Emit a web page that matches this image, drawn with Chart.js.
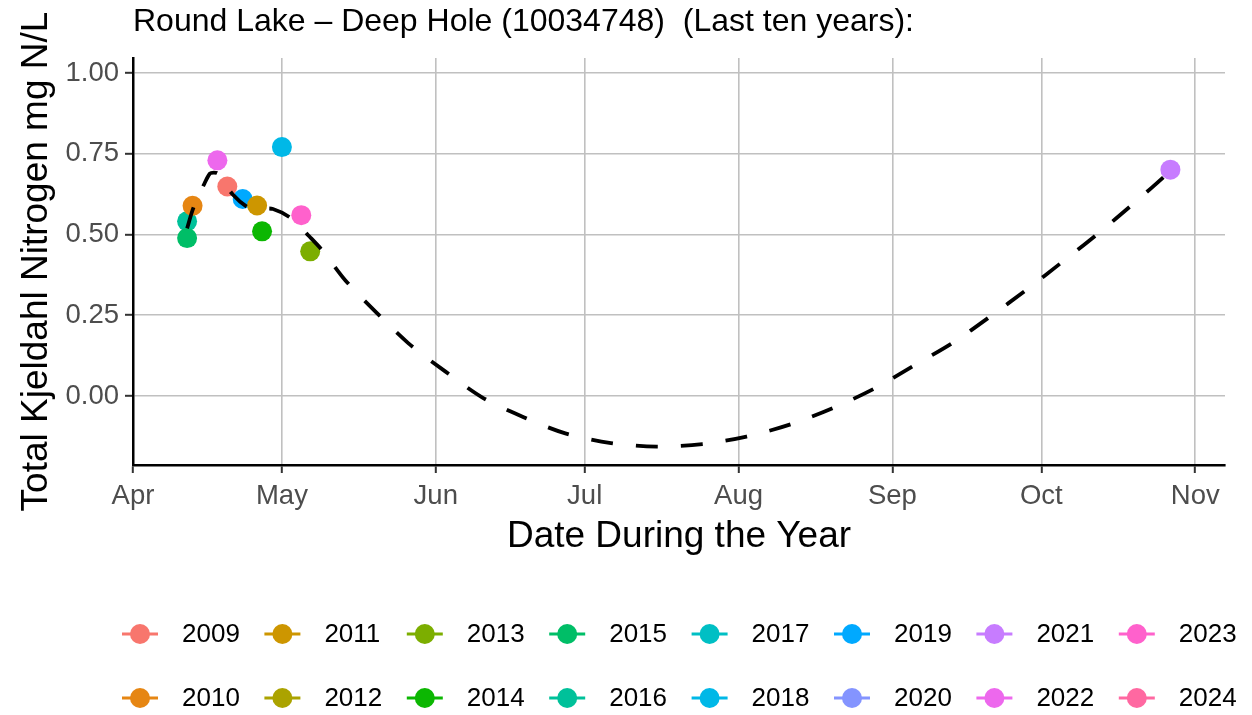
<!DOCTYPE html>
<html>
<head>
<meta charset="utf-8">
<script src="https://cdn.jsdelivr.net/npm/chart.js@4.4.1/dist/chart.umd.min.js"></script>
<style>
  html, body { margin: 0; padding: 0; background: #fff; }
</style>
</head>
<body>
<canvas id="graficoTKN" width="1252" height="715"></canvas>
<script>
// anos da legenda e cores (paleta padrao do ggplot, 16 niveis)
const anos = ['2009', '2010', '2011', '2012', '2013', '2014', '2015', '2016',
              '2017', '2018', '2019', '2020', '2021', '2022', '2023', '2024'];
const cores = ['#F8766D', '#E68613', '#CD9600', '#ABA300', '#7CAE00', '#0CB702', '#00BE67', '#00C19A',
               '#00BFC4', '#00B8E7', '#00A9FF', '#8494FF', '#C77CFF', '#ED68ED', '#FF61CC', '#FF68A1'];

// amostras: ano, dia do ano, valor (mg N/L)
const amostraAno   = ['2016', '2015', '2010', '2022', '2009', '2019', '2011', '2014', '2018', '2023', '2013', '2021'];
const amostraDia   = [101.9, 101.9, 103.0, 108.0, 110.0, 113.1, 116.0, 117.0, 121.0, 124.9, 126.7, 300.0];
const amostraValor = [0.541, 0.489, 0.589, 0.730, 0.649, 0.610, 0.590, 0.510, 0.771, 0.560, 0.448, 0.701];

// curva suavizada (tracejada)
const curvaDia   = [101.9, 103.2, 105.3, 106.5, 107.3, 108.1, 111.1, 114.3, 116.6, 119.2, 123.0, 126.6, 129.3,
                    133.8, 140.0, 146.5, 153.9, 161.4, 169.7, 178.1, 187.3, 196.5, 205.7, 214.6, 223.5,
                    232.1, 240.4, 248.2, 256.1, 263.6, 271.0, 278.2, 285.4, 292.4, 298.9, 300.0];
const curvaValor = [0.519, 0.584, 0.655, 0.689, 0.692, 0.689, 0.624, 0.583, 0.580, 0.579, 0.549, 0.493, 0.448,
                    0.358, 0.259, 0.163, 0.076, -0.005, -0.066, -0.116, -0.146, -0.157, -0.149, -0.126, -0.088,
                    -0.037, 0.023, 0.093, 0.164, 0.245, 0.329, 0.415, 0.503, 0.594, 0.682, 0.701];

// eixos
const mesesDia   = [91, 121, 152, 182, 213, 244, 274, 305];
const mesesNome  = ['Apr', 'May', 'Jun', 'Jul', 'Aug', 'Sep', 'Oct', 'Nov'];
const yTicks     = [0, 0.25, 0.5, 0.75, 1.0];

const fonte = "'Liberation Sans', Arial, sans-serif";

const datasets = [{
    label: 'curva',
    type: 'line',
    data: curvaDia.map((d, i) => ({ x: d, y: curvaValor[i] })),
    borderColor: '#000',
    borderWidth: 3.8,
    borderDash: [22, 23],
    borderCapStyle: 'butt',
    pointRadius: 0,
    tension: 0.3,
    fill: false,
    order: 0
}];

anos.forEach((ano, k) => {
    const pts = [];
    amostraAno.forEach((a, i) => {
        if (a === ano) pts.push({ x: amostraDia[i], y: amostraValor[i] });
    });
    datasets.push({
        label: ano,
        data: pts,
        backgroundColor: cores[k],
        borderWidth: 0,
        pointRadius: 10,
        pointHoverRadius: 10,
        order: 1
    });
});

// titulo e legenda desenhados a mao (legenda em colunas como no ggplot)
const decoracao = {
    id: 'decoracao',
    afterDraw(chart) {
        const ctx = chart.ctx;
        const area = chart.chartArea;
        ctx.save();
        ctx.fillStyle = '#000';
        ctx.font = '32px ' + fonte;
        ctx.textAlign = 'left';
        ctx.textBaseline = 'middle';
        ctx.fillText('Round Lake \u2013 Deep Hole (10034748)  (Last ten years):', area.left, 22);

        ctx.font = '26px ' + fonte;
        anos.forEach((ano, i) => {
            const col = Math.floor(i / 2);
            const cx = 140 + col * 142.4;
            const cy = i % 2 === 0 ? 634 : 698;
            ctx.strokeStyle = cores[i];
            ctx.lineWidth = 3;
            ctx.beginPath();
            ctx.moveTo(cx - 18, cy);
            ctx.lineTo(cx + 18, cy);
            ctx.stroke();
            ctx.fillStyle = cores[i];
            ctx.beginPath();
            ctx.arc(cx, cy, 10, 0, Math.PI * 2);
            ctx.fill();
            ctx.fillStyle = '#000';
            ctx.fillText(ano, cx + 42, cy + 1);
        });
        ctx.restore();
    }
};

new Chart(document.getElementById('graficoTKN').getContext('2d'), {
    type: 'scatter',
    data: { datasets: datasets },
    options: {
        responsive: false,
        animation: false,
        layout: { padding: { top: 58, right: 27, bottom: 160, left: 0 } },
        plugins: {
            legend: { display: false },
            title: { display: false },
            tooltip: { enabled: false }
        },
        scales: {
            x: {
                type: 'linear',
                min: 91,
                max: 311,
                afterBuildTicks: (axis) => { axis.ticks = mesesDia.map(v => ({ value: v })); },
                afterFit: (scale) => { scale.height = 90; },
                ticks: {
                    autoSkip: false,
                    maxRotation: 0,
                    padding: 7,
                    color: '#4d4d4d',
                    font: { family: fonte, size: 27.5 },
                    callback: (v) => mesesNome[mesesDia.indexOf(v)]
                },
                grid: { color: '#c0c0c0', lineWidth: 1.6, tickColor: '#333', tickLength: 8, tickWidth: 2 },
                border: { color: '#000', width: 2.5 },
                title: {
                    display: true,
                    text: 'Date During the Year',
                    color: '#000',
                    font: { family: fonte, size: 37 },
                    padding: { top: 0, bottom: -4 }
                }
            },
            y: {
                min: -0.214,
                max: 1.047,
                afterBuildTicks: (axis) => { axis.ticks = yTicks.map(v => ({ value: v })); },
                afterFit: (scale) => { scale.width = 133; },
                ticks: {
                    autoSkip: false,
                    padding: 6,
                    color: '#4d4d4d',
                    font: { family: fonte, size: 27.5 },
                    callback: (v) => v.toFixed(2)
                },
                grid: { color: '#c0c0c0', lineWidth: 1.6, tickColor: '#333', tickLength: 8, tickWidth: 2 },
                border: { color: '#000', width: 2.5 },
                title: {
                    display: true,
                    text: 'Total Kjeldahl Nitrogen mg N/L',
                    color: '#000',
                    font: { family: fonte, size: 37 },
                    padding: { top: 15, bottom: 0 }
                }
            }
        }
    },
    plugins: [decoracao]
});
</script>
</body>
</html>
